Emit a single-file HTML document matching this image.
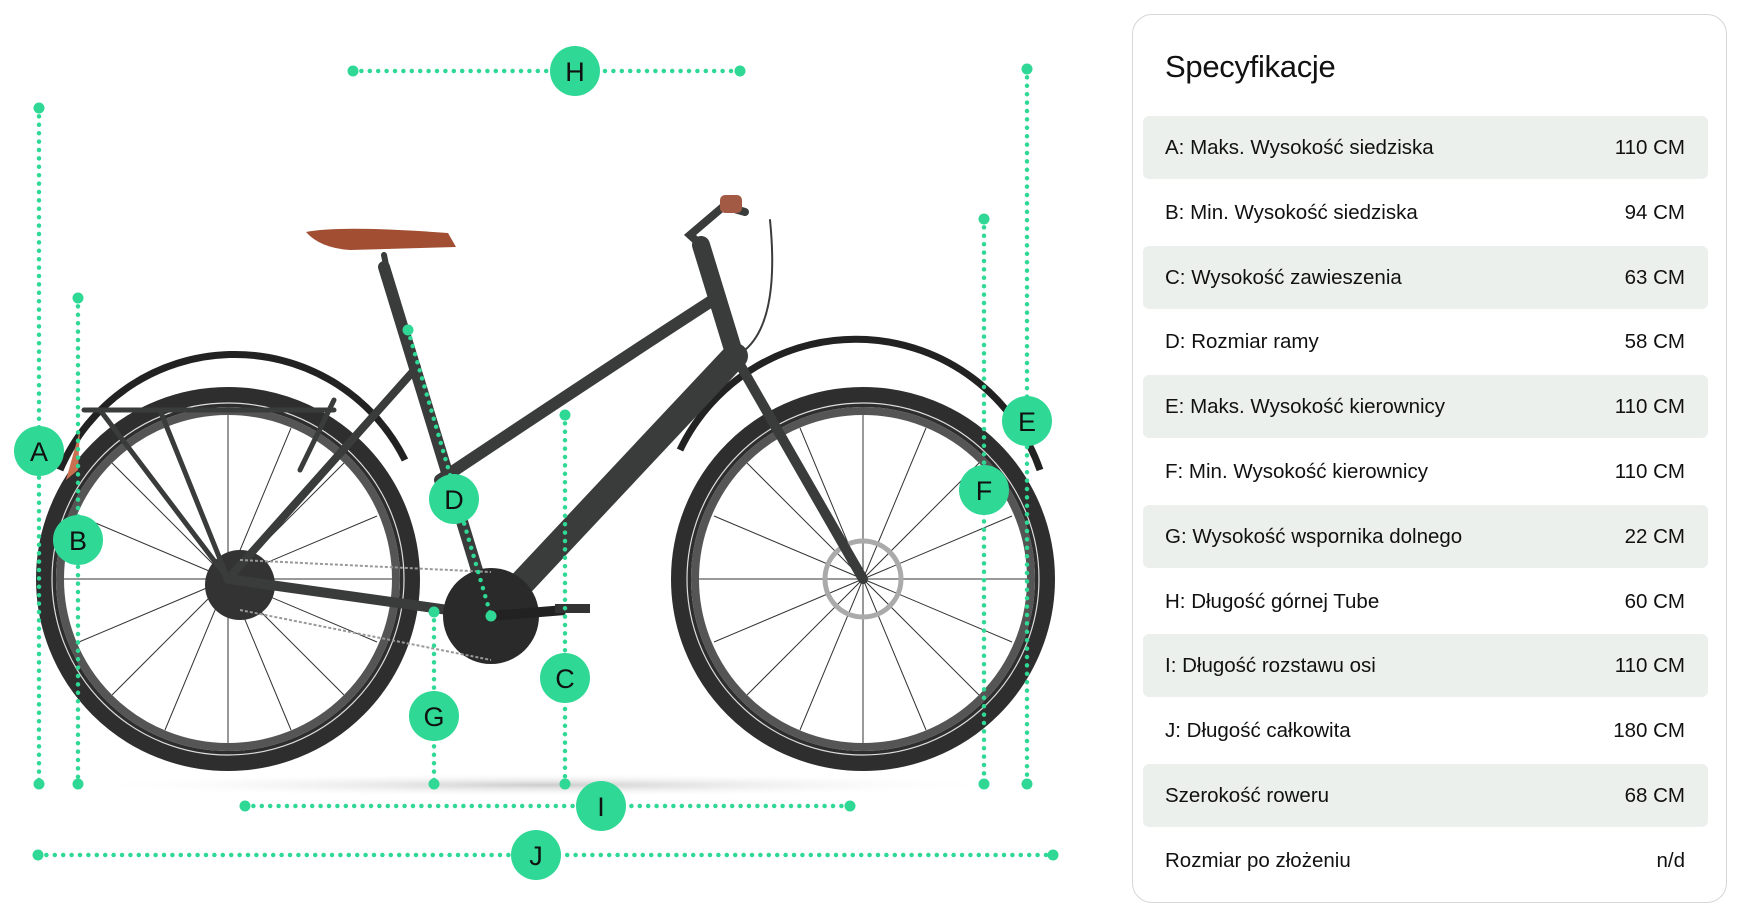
<!DOCTYPE html>
<html><head><meta charset="utf-8"><style>
body{margin:0;width:1737px;height:922px;background:#fff;position:relative;overflow:hidden;font-family:"Liberation Sans",sans-serif;}
.card{position:absolute;left:1132px;top:14px;width:595px;height:889px;border:1.5px solid #d6d6d6;border-radius:20px;box-sizing:border-box;}
.title{position:absolute;left:1165px;top:49px;font-size:31px;color:#111;letter-spacing:-0.3px;}
.row{position:absolute;left:1143px;width:565px;height:63px;border-radius:6px;font-size:20.5px;color:#111;line-height:63px;}
.row.g{background:#ecf0ed;}
.row .l{position:absolute;left:22px;}
.row .r{position:absolute;right:23px;}
svg{position:absolute;left:0;top:0;}
</style></head><body>
<svg width="1737" height="922" viewBox="0 0 1737 922">
<defs>
<radialGradient id="sh" cx="0.5" cy="0.5" r="0.5"><stop offset="0" stop-color="#ccc"/><stop offset="1" stop-color="#fff" stop-opacity="0"/></radialGradient>
</defs>
<ellipse cx="545" cy="785" rx="470" ry="12" fill="url(#sh)"/>
<g fill="none">
<circle cx="228" cy="579" r="182" stroke="#2e2e2e" stroke-width="20"/>
<circle cx="228" cy="579" r="168" stroke="#555" stroke-width="8"/>
<circle cx="228" cy="579" r="176" stroke="#ddd" stroke-width="1.2"/>
<circle cx="863" cy="579" r="182" stroke="#2e2e2e" stroke-width="20"/>
<circle cx="863" cy="579" r="168" stroke="#555" stroke-width="8"/>
<circle cx="863" cy="579" r="176" stroke="#ddd" stroke-width="1.2"/>
<path d="M60 470 A190 190 0 0 1 405 460" stroke="#222" stroke-width="7"/>
<path d="M680 450 A195 195 0 0 1 1040 470" stroke="#222" stroke-width="7"/>
</g>
<g stroke="#333" stroke-width="1">
<path d="M228 579 L228 415M228 579 L228 743M228 579 L64 579M228 579 L392 579M228 579 L112 463M228 579 L344 695M228 579 L344 463M228 579 L112 695M228 579L165 428M228 579L291 730M228 579L79 516M228 579L377 642M228 579L291 428M228 579L165 730M228 579L377 516M228 579L79 642"/>
<path d="M863 579 L863 415M863 579 L863 743M863 579 L699 579M863 579 L1027 579M863 579 L747 463M863 579 L979 695M863 579 L979 463M863 579 L747 695M863 579L800 428M863 579L926 730M863 579L714 516M863 579L1012 642M863 579L926 428M863 579L800 730M863 579L1012 516M863 579L714 642"/>
</g>
<circle cx="863" cy="579" r="38" fill="none" stroke="#aaa" stroke-width="5"/>
<circle cx="240" cy="585" r="35" fill="#333"/>
<g stroke="#3a3b3b" stroke-linecap="round" fill="none">
<path d="M735 356 L491 616" stroke-width="26"/>
<path d="M713 300 Q620 360 440 480" stroke-width="12"/>
<path d="M701 245 L735 356" stroke-width="18"/>
<path d="M384 267 L491 616" stroke-width="12"/>
<path d="M491 616 L228 579" stroke-width="10"/>
<path d="M417 367 L228 579" stroke-width="8"/>
<path d="M735 356 L863 579" stroke-width="10"/>
<path d="M390 285 L384 255" stroke-width="6"/>
<path d="M84 410 L334 410 M100 410 L228 579 M160 410 L228 579 M334 400 L300 470" stroke-width="5"/>
<path d="M701 245 L690 235 L724 206 M724 206 L745 212" stroke-width="8"/>
<path d="M770 220 Q780 320 745 350" stroke-width="2"/>
</g>
<circle cx="491" cy="616" r="48" fill="#2a2a2a"/>
<path d="M491 616 L565 610" stroke="#222" stroke-width="10"/>
<rect x="555" y="604" width="35" height="9" fill="#333"/>
<path d="M240 560 L491 572 M240 610 L491 660" stroke="#999" stroke-width="2" stroke-dasharray="3 2"/>
<path d="M306 232 Q340 225 448 233 L456 247 L350 250 Q320 248 306 232Z" fill="#a24e33"/>
<rect x="720" y="195" width="22" height="18" rx="5" fill="#a35a45"/>
<path d="M80 430 L66 480 L78 470Z" fill="#c97050"/>
<g stroke="#2fd895" stroke-width="4.5" stroke-linecap="round" stroke-dasharray="0 8.4" fill="none">
<path d="M353 71 L740 71"/>
<path d="M39 108 L39 784"/>
<path d="M78 298 L78 784"/>
<path d="M1027 69 L1027 784"/>
<path d="M984 219 L984 784"/>
<path d="M565 415 L565 784"/>
<path d="M434 612 L434 784"/>
<path d="M408 330 L491 616"/>
<path d="M245 806 L850 806"/>
<path d="M38 855 L1053 855"/>
</g>
<g fill="#2fd895">
<circle cx="353" cy="71" r="5.5"/><circle cx="740" cy="71" r="5.5"/>
<circle cx="39" cy="108" r="5.5"/><circle cx="39" cy="784" r="5.5"/>
<circle cx="78" cy="298" r="5.5"/><circle cx="78" cy="784" r="5.5"/>
<circle cx="1027" cy="69" r="5.5"/><circle cx="1027" cy="784" r="5.5"/>
<circle cx="984" cy="219" r="5.5"/><circle cx="984" cy="784" r="5.5"/>
<circle cx="565" cy="415" r="5.5"/><circle cx="565" cy="784" r="5.5"/>
<circle cx="434" cy="612" r="5.5"/><circle cx="434" cy="784" r="5.5"/>
<circle cx="408" cy="330" r="5.5"/><circle cx="491" cy="616" r="5.5"/>
<circle cx="245" cy="806" r="5.5"/><circle cx="850" cy="806" r="5.5"/>
<circle cx="38" cy="855" r="5.5"/><circle cx="1053" cy="855" r="5.5"/>
<circle cx="575" cy="71" r="25"/><circle cx="39" cy="451" r="25"/>
<circle cx="78" cy="540" r="25"/><circle cx="1027" cy="421" r="25"/>
<circle cx="984" cy="490" r="25"/><circle cx="565" cy="678" r="25"/>
<circle cx="434" cy="716" r="25"/><circle cx="454" cy="499" r="25"/>
<circle cx="601" cy="806" r="25"/><circle cx="536" cy="855" r="25"/>
</g>
<g font-family="Liberation Sans, sans-serif" font-size="27" fill="#111" text-anchor="middle" dominant-baseline="central">
<text x="575" y="72">H</text><text x="39" y="452">A</text><text x="78" y="541">B</text>
<text x="1027" y="422">E</text><text x="984" y="491">F</text><text x="565" y="679">C</text>
<text x="434" y="717">G</text><text x="454" y="500">D</text><text x="601" y="807">I</text><text x="536" y="856">J</text>
</g>
</svg>
<div class="card"></div>
<div class="title">Specyfikacje</div>
<div class="row g" style="top:116px"><span class="l">A: Maks. Wysokość siedziska</span><span class="r">110 CM</span></div>
<div class="row" style="top:181px"><span class="l">B: Min. Wysokość siedziska</span><span class="r">94 CM</span></div>
<div class="row g" style="top:246px"><span class="l">C: Wysokość zawieszenia</span><span class="r">63 CM</span></div>
<div class="row" style="top:310px"><span class="l">D: Rozmiar ramy</span><span class="r">58 CM</span></div>
<div class="row g" style="top:375px"><span class="l">E: Maks. Wysokość kierownicy</span><span class="r">110 CM</span></div>
<div class="row" style="top:440px"><span class="l">F: Min. Wysokość kierownicy</span><span class="r">110 CM</span></div>
<div class="row g" style="top:505px"><span class="l">G: Wysokość wspornika dolnego</span><span class="r">22 CM</span></div>
<div class="row" style="top:570px"><span class="l">H: Długość górnej Tube</span><span class="r">60 CM</span></div>
<div class="row g" style="top:634px"><span class="l">I: Długość rozstawu osi</span><span class="r">110 CM</span></div>
<div class="row" style="top:699px"><span class="l">J: Długość całkowita</span><span class="r">180 CM</span></div>
<div class="row g" style="top:764px"><span class="l">Szerokość roweru</span><span class="r">68 CM</span></div>
<div class="row" style="top:829px"><span class="l">Rozmiar po złożeniu</span><span class="r">n/d</span></div>
</body></html>
